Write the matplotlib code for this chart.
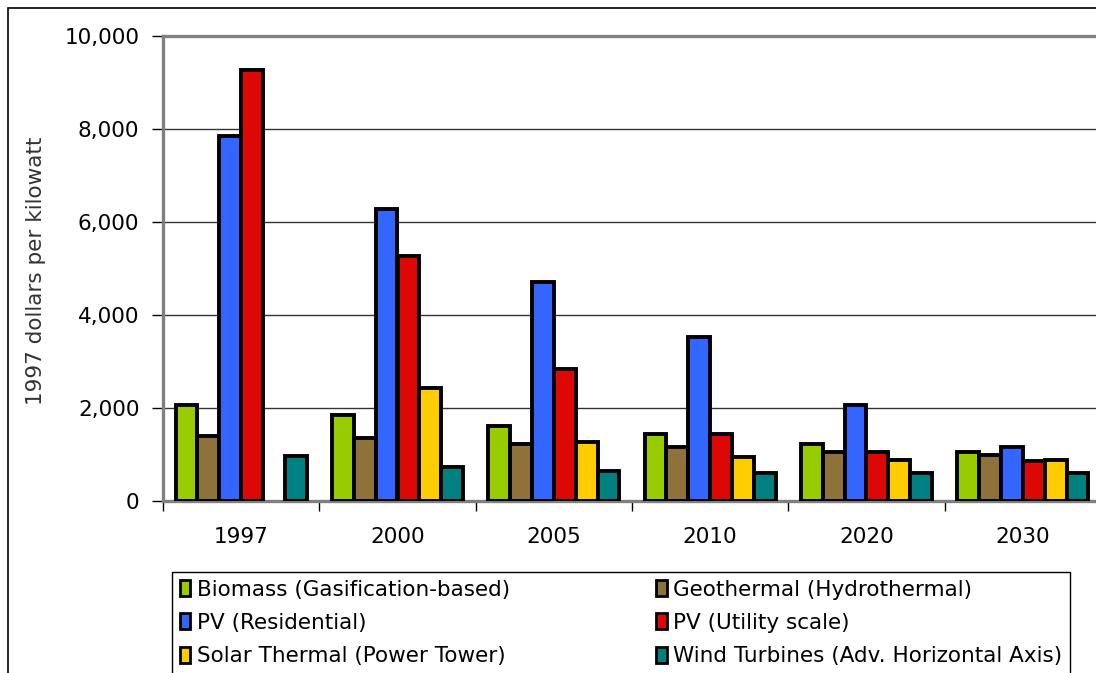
import numpy as np
import matplotlib
matplotlib.use("Agg")
import matplotlib.pyplot as plt
from matplotlib.patches import Rectangle
from matplotlib.ticker import FuncFormatter, FixedLocator

# Data (1997 dollars per kilowatt)
years = ["1997", "2000", "2005", "2010", "2020", "2030"]
series_names = [
    "Biomass (Gasification-based)",
    "Geothermal (Hydrothermal)",
    "PV (Residential)",
    "PV (Utility scale)",
    "Solar Thermal (Power Tower)",
    "Wind Turbines (Adv. Horizontal Axis)",
]
biomass = [2060, 1850, 1610, 1440, 1230, 1060]
geothermal = [1390, 1355, 1230, 1160, 1060, 990]
pv_residential = [7850, 6280, 4710, 3530, 2065, 1170]
pv_utility = [9260, 5270, 2840, 1440, 1060, 850]
solar_thermal = [np.nan, 2430, 1270, 950, 880, 880]
wind = [970, 730, 650, 610, 600, 600]

series = [biomass, geothermal, pv_residential, pv_utility, solar_thermal, wind]
colors = ["#99CC00", "#8F7239", "#3366FF", "#DD0806", "#FFCC00", "#008080"]

W, H = 1096, 673
fig = plt.figure(figsize=(W / 100, H / 100), dpi=100)
plt.rcParams["font.family"] = ["DejaVu Sans"]

# outer chart border (left and top edges visible)
fig.add_artist(Rectangle((8 / W, -0.1), 1.2, 1.1 - 8 / H,
                         transform=fig.transFigure, fill=False,
                         edgecolor="black", linewidth=1.2))

ax = fig.add_axes([163 / W, 1 - 501 / H, (1101 - 163) / W, (501 - 36) / H])

x = np.arange(len(years))
bar_w = 0.14
bars = []
for i, (vals, col) in enumerate(zip(series, colors)):
    b = ax.bar(x + (i - 2.5) * bar_w, vals, width=bar_w, color=col,
               edgecolor="black", linewidth=2.8, zorder=3,
               label=series_names[i])
    bars.append(b)

ax.set_xlim(-0.5, len(years) - 0.5)
ax.set_ylim(0, 10000)
ax.yaxis.set_major_locator(FixedLocator([0, 2000, 4000, 6000, 8000, 10000]))
ax.yaxis.set_major_formatter(FuncFormatter(lambda v, p: "{:,.0f}".format(v)))
ax.grid(axis="y", color="#333333", linewidth=1.0, zorder=0)

ax.set_xticks(x)
ax.set_xticklabels(years)
ax.set_xticks(np.arange(len(years) + 1) - 0.5, minor=True)
ax.tick_params(axis="x", which="major", length=0, pad=19, labelsize=15.5)
ax.tick_params(axis="x", which="minor", length=7, width=1.0, color="black",
               direction="out")
ax.tick_params(axis="y", length=8, width=1.0, color="black", pad=9,
               labelsize=15.5)

for side in ["left", "bottom", "top"]:
    ax.spines[side].set_color("#808080")
    ax.spines[side].set_linewidth(2.4)
ax.spines["right"].set_visible(False)

fig.text(36 / W, 1 - 405 / H, "1997 dollars per kilowatt", rotation=90,
         ha="center", va="bottom", fontsize=15.5, color="#333333")

order = [0, 2, 4, 1, 3, 5]
handles = [bars[k][1] for k in order]
labels = [series_names[k] for k in order]
leg = fig.legend(handles, labels, ncol=2,
                 loc="upper left",
                 bbox_to_anchor=(172 / W, 1 - 572 / H),
                 fontsize=15.5, frameon=True, fancybox=False, framealpha=1,
                 edgecolor="black", borderpad=0.35, labelspacing=0.62,
                 handlelength=0.5, handleheight=0.75, handletextpad=0.3,
                 columnspacing=6.8, borderaxespad=0.0)
leg.get_frame().set_linewidth(1.0)
for h in leg.legend_handles:
    h.set_linewidth(2.0)

fig.savefig("out.png", dpi=100)
